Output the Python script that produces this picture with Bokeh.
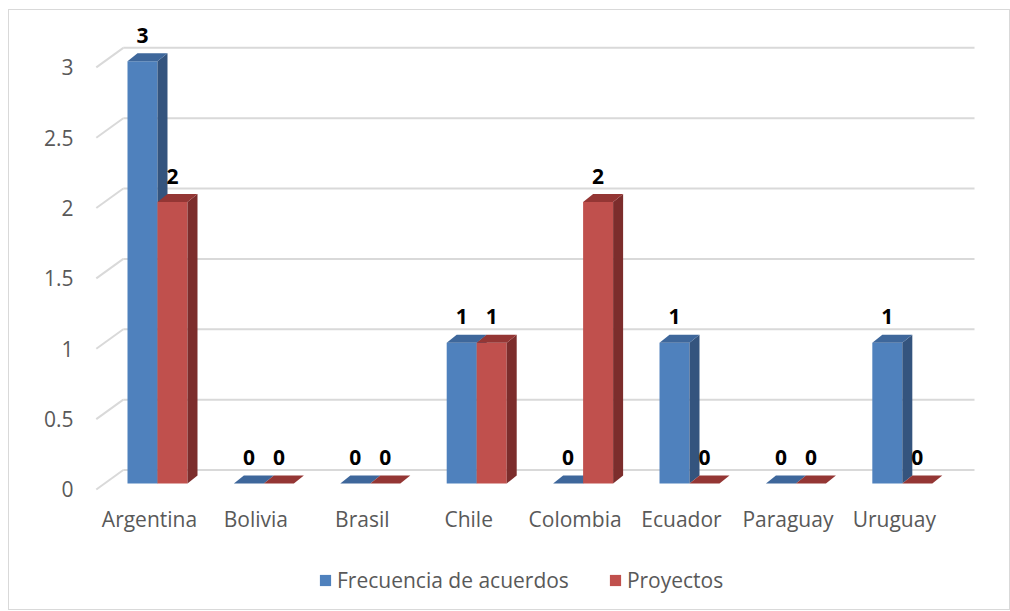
from bokeh.plotting import figure
from bokeh.layouts import column
from bokeh.models import (Range1d, FixedTicker, Legend, LegendItem)
from bokeh.core.properties import value
from bokeh.embed import file_html
from bokeh.resources import INLINE

# ---------------- data ----------------
categories = ["Argentina", "Bolivia", "Brasil", "Chile", "Colombia", "Ecuador", "Paraguay", "Uruguay"]
frecuencia = [3, 0, 0, 1, 0, 1, 0, 1]
proyectos = [2, 0, 0, 1, 2, 0, 0, 0]
series_names = ["Frecuencia de acuerdos", "Proyectos"]
y_ticks = [0, 0.5, 1, 1.5, 2, 2.5, 3]
y_tick_labels = ["0", "0.5", "1", "1.5", "2", "2.5", "3"]

# ---------------- geometry / style ----------------
FONT = "Open Sans"
FS = "21px"
W, H = 1000, 540
MB_L, MB_R, MB_T, MB_B = 81, 29, 10, 53
X0, X1 = -0.5545, 7.81
Y0, Y1 = -0.057, 3.333
FW = W - MB_L - MB_R
FH = H - MB_T - MB_B
UX = (X1 - X0) / FW      # data units per pixel (x)
UY = (Y1 - Y0) / FH      # data units per pixel (y)

BAR_W = 30 * UX
BAR_SHIFT = 8 * UX
BASE = 6 * UY
DX, DY = 10 * UX, 8 * UY          # bar depth
WX, WY = 27 * UX, 19.5 * UY       # back wall offset

colors = {
    0: dict(front="#4F81BD", side="#34547E", top="#3E679B"),
    1: dict(front="#C0504D", side="#7C2D2C", top="#943634"),
}

p = figure(width=W, height=H, output_backend="svg", toolbar_location=None,
           x_range=Range1d(X0, X1), y_range=Range1d(Y0, Y1),
           min_border_left=MB_L, min_border_right=MB_R,
           min_border_top=MB_T, min_border_bottom=MB_B,
           outline_line_color=None, background_fill_color="white",
           border_fill_color="white")
p.xgrid.visible = False
p.ygrid.visible = False

# ---------- axes ----------
n = len(categories)
p.xaxis.ticker = FixedTicker(ticks=list(range(n)))
p.xaxis.major_label_overrides = {i: c for i, c in enumerate(categories)}
p.yaxis.ticker = FixedTicker(ticks=y_ticks)
p.yaxis.major_label_overrides = {t: l for t, l in zip(y_ticks, y_tick_labels)}
for ax in (p.xaxis, p.yaxis):
    ax.axis_line_color = None
    ax.major_tick_line_color = None
    ax.major_tick_out = 0
    ax.major_tick_in = 0
    ax.minor_tick_line_color = None
    ax.major_label_text_font = FONT
    ax.major_label_text_font_size = FS
    ax.major_label_text_color = "#595959"
p.yaxis.major_label_standoff = 17
p.xaxis.major_label_standoff = 7

# ---------- back wall gridlines + floor diagonals ----------
ax_x = -0.5
end_x = n - 0.5
p.segment(x0=[ax_x + WX] * len(y_ticks), y0=[t + WY for t in y_ticks],
          x1=[end_x + WX] * len(y_ticks), y1=[t + WY for t in y_ticks],
          line_color="#d9d9d9", line_width=2)
p.segment(x0=[ax_x] * len(y_ticks), y0=y_ticks,
          x1=[ax_x + WX] * len(y_ticks), y1=[t + WY for t in y_ticks],
          line_color="#d9d9d9", line_width=2)

# ---------- 3D bars ----------
for s, vals in enumerate([frecuencia, proyectos]):
    c = colors[s]
    lefts, rights, tops = [], [], []
    side_xs, side_ys, top_xs, top_ys = [], [], [], []
    for i, v in enumerate(vals):
        center = i + BAR_SHIFT
        left = center - BAR_W if s == 0 else center
        right = left + BAR_W
        top = v + BASE
        lefts.append(left); rights.append(right); tops.append(top)
        side_xs.append([right, right + DX, right + DX, right])
        side_ys.append([BASE, BASE + DY, top + DY, top])
        top_xs.append([left, left + DX, right + DX, right])
        top_ys.append([top, top + DY, top + DY, top])
    p.quad(left=lefts, right=rights, bottom=[BASE] * n, top=tops,
           fill_color=c["front"], line_color=None)
    p.patches(xs=side_xs, ys=side_ys, fill_color=c["side"], line_color=None)
    p.patches(xs=top_xs, ys=top_ys, fill_color=c["top"], line_color=None)
    # data labels
    p.text(x=[(l + r) / 2 for l, r in zip(lefts, rights)], y=tops,
           text=[str(v) for v in vals], text_font=value(FONT),
           text_font_style="bold", text_font_size=FS, text_color="black",
           text_align="center", text_baseline="middle", y_offset=-26)

# ---------- legend strip ----------
pl = figure(width=W, height=59, output_backend="svg", toolbar_location=None,
            x_range=Range1d(0, 1), y_range=Range1d(0, 1),
            x_axis_type=None, y_axis_type=None,
            min_border=0, outline_line_color=None,
            background_fill_color="white", border_fill_color="white")
pl.xgrid.visible = False
pl.ygrid.visible = False
# zero-area proxies that only carry the legend swatch styles
swatches = [pl.quad(left=[0], right=[0], bottom=[0], top=[0],
                    fill_color=colors[s]["front"], line_color=None) for s in range(2)]
legend = Legend(items=[LegendItem(label=series_names[s], renderers=[swatches[s]]) for s in range(2)],
                orientation="horizontal", location=(228, 15), margin=0, padding=0,
                border_line_color=None, background_fill_alpha=0,
                label_text_font=FONT, label_text_font_size=FS,
                label_text_color="#595959", glyph_width=14, glyph_height=14,
                label_standoff=5, spacing=39, label_height=20)
pl.add_layout(legend, "center")

layout = column(p, pl, spacing=0,
                styles={"border": "1px solid #d9d9d9", "margin-left": "8px", "margin-top": "9px"})

open("out.html", "w").write(file_html(layout, INLINE))
